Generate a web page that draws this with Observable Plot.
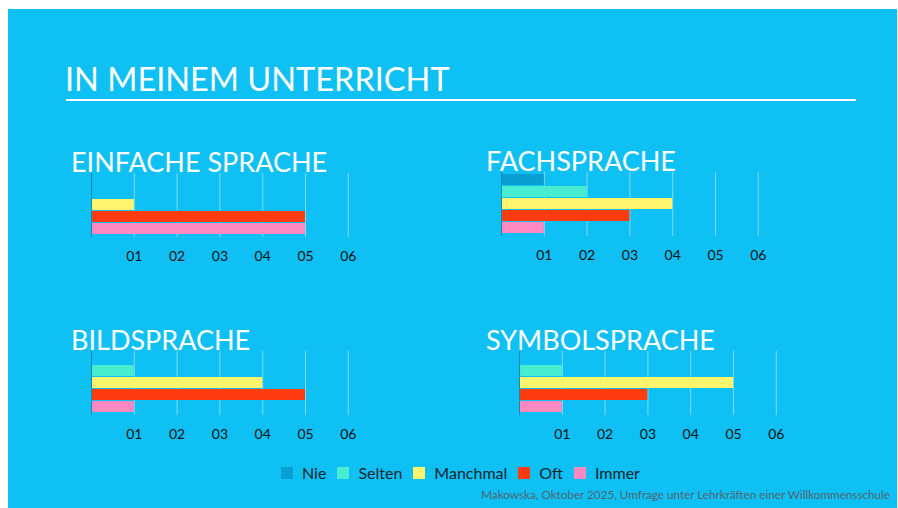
<!DOCTYPE html>
<html>
<head>
<meta charset="utf-8">
<script src="https://cdn.jsdelivr.net/npm/d3@7"></script>
<script src="https://cdn.jsdelivr.net/npm/@observablehq/plot@0.6"></script>
<style>
  html, body { margin: 0; padding: 0; background: #fff; }
  #page { position: relative; width: 898px; height: 508px; background: #fff; overflow: hidden; font-family: Lato, sans-serif; }
  #panel { position: absolute; left: 8px; top: 9px; width: 889px; height: 499px; background: #0fc0f4; }
  .abs { position: absolute; white-space: nowrap; }
  .main-title { color: #fff; font-size: 32.5px; line-height: 1; }
  .rule { position: absolute; left: 66px; top: 99px; width: 790px; height: 2px; background: #fff; }
  .ptitle { color: #fff; font-size: 27px; line-height: 1; }
  .legend { display: flex; align-items: center; font-size: 16px; color: #14262e; }
  .legend .item { display: flex; align-items: center; margin-right: 11px; }
  .legend .sw { width: 12px; height: 12px; margin-right: 9px; }
  .caption { font-size: 11.7px; color: #4f6570; }
</style>
</head>
<body>
<div id="page"><div id="panel"></div></div>
<script>
const categories = ["Nie", "Selten", "Manchmal", "Oft", "Immer"];
const colors = ["#0a9fd2", "#48edd0", "#fff46b", "#ff3c10", "#ff88c0"];
const panelTitles = ["EINFACHE SPRACHE", "FACHSPRACHE", "BILDSPRACHE", "SYMBOLSPRACHE"];
const einfacheSprache = [0, 0, 1, 5, 5];
const fachsprache = [1, 2, 4, 3, 1];
const bildsprache = [0, 1, 4, 5, 1];
const symbolsprache = [0, 1, 5, 3, 1];
const xTicks = [1, 2, 3, 4, 5, 6];
const tickLabels = ["01", "02", "03", "04", "05", "06"];
const mainTitle = "IN MEINEM UNTERRICHT";
const caption = "Makowska, Oktober 2025, Umfrage unter Lehrkräften einer Willkommensschule";

const series = [einfacheSprache, fachsprache, bildsprache, symbolsprache];
// layout: x of zero, frame top, title left, title top
const layout = [
  {x0: 91, top: 173, tx: 71, ty: 148},
  {x0: 500.5, top: 172, tx: 486, ty: 147},
  {x0: 91, top: 351, tx: 71, ty: 326},
  {x0: 518.5, top: 351, tx: 486, ty: 326}
];

const page = document.getElementById("page");
function addDiv(cls, text, left, top, extra) {
  const d = document.createElement("div");
  d.className = "abs " + cls;
  d.textContent = text;
  d.style.left = left + "px";
  d.style.top = top + "px";
  if (extra) Object.assign(d.style, extra);
  page.appendChild(d);
  return d;
}

addDiv("main-title", mainTitle, 65, 63);
const rule = document.createElement("div");
rule.className = "rule";
page.appendChild(rule);

const unit = 42.8;
const mL = 12, mR = 24, frameH = 64, mB = 34;

series.forEach((vals, k) => {
  const L = layout[k];
  addDiv("ptitle", panelTitles[k], L.tx, L.ty);
  const data = categories.map((c, i) => ({cat: c, value: vals[i]})).filter(d => d.value > 0);
  const chart = Plot.plot({
    width: mL + unit * 6 + mR,
    height: frameH + mB,
    marginLeft: mL,
    marginRight: mR,
    marginTop: 0,
    marginBottom: mB,
    style: {background: "transparent", fontFamily: "Lato, sans-serif", overflow: "visible"},
    x: {domain: [0, 6], axis: null},
    y: {domain: categories, axis: null, paddingInner: 0.08, paddingOuter: 0.15},
    color: {domain: categories, range: colors},
    marks: [
      Plot.ruleX(xTicks, {stroke: "#a8e2f5", strokeOpacity: 0.75, strokeWidth: 1}),
      Plot.barX(data, {x: "value", y: "cat", fill: "cat"}),
      Plot.ruleX([0], {stroke: "#1389b2", strokeWidth: 1}),
      Plot.axisX(xTicks, {label: null, tickSize: 0, tickPadding: 14, fontSize: 14, fill: "#111", tickFormat: d => tickLabels[xTicks.indexOf(d)]})
    ]
  });
  chart.style.position = "absolute";
  chart.style.left = (L.x0 - mL) + "px";
  chart.style.top = L.top + "px";
  page.appendChild(chart);
});

// legend
const legend = document.createElement("div");
legend.className = "abs legend";
legend.style.left = "281px";
legend.style.top = "463px";
categories.forEach((c, i) => {
  const it = document.createElement("div");
  it.className = "item";
  const sw = document.createElement("span");
  sw.className = "sw";
  sw.style.background = colors[i];
  const t = document.createElement("span");
  t.textContent = c;
  it.appendChild(sw); it.appendChild(t);
  legend.appendChild(it);
});
page.appendChild(legend);

addDiv("caption", caption, 0, 487, {left: "auto", right: "8px"});
</script>
</body>
</html>
